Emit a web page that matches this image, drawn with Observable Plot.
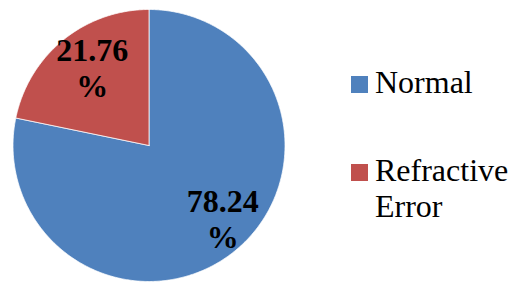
<!DOCTYPE html>
<html>
<head>
<meta charset="utf-8">
<script src="https://cdn.jsdelivr.net/npm/d3@7"></script>
<script src="https://cdn.jsdelivr.net/npm/@observablehq/plot@0.6"></script>
<style>
  html, body { margin: 0; padding: 0; background: #fff; }
  #wrap { position: relative; width: 510px; height: 284px; overflow: hidden; }
  #wrap svg { position: absolute; left: 0; top: 0; }
  .item { position: absolute; left: 351px; display: flex; align-items: flex-start;
          font-family: "Liberation Serif", Tinos, "Times New Roman", Times, "DejaVu Serif", serif; font-size: 32px;
          line-height: 36px; color: #000; }
  .sw { width: 17px; height: 17px; margin-top: 11.8px; flex: none; }
  .lab { margin-left: 7px; width: 138px; }
</style>
</head>
<body>
<div id="wrap"></div>
<script>
const categories = ["Normal", "Refractive Error"];
const values = [78.24, 21.76];
const colors = ["#4F81BD", "#C0504D"];
const labels = ["78.24\n%", "21.76\n%"];

const arcs = d3.pie().sort(null).value(d => d)(values);
const pts = [];
arcs.forEach((a, i) => {
  const c = categories[i];
  pts.push({x: 0, y: 0, c});
  const n = Math.max(2, Math.ceil((a.endAngle - a.startAngle) / 0.01));
  for (let k = 0; k <= n; k++) {
    const t = a.startAngle + (a.endAngle - a.startAngle) * k / n;
    pts.push({x: Math.sin(t), y: Math.cos(t), c});
  }
  pts.push({x: 0, y: 0, c});
});
const lab = arcs.map((a, i) => {
  const m = (a.startAngle + a.endAngle) / 2;
  return {x: 0.72 * Math.sin(m), y: 0.72 * Math.cos(m), text: labels[i], c: categories[i]};
});

const textOpts = {fontFamily: "'Liberation Serif', Tinos, 'Times New Roman', Times, 'DejaVu Serif', serif", fontWeight: "bold", fontSize: 32,
  lineHeight: 36 / 32, fill: "#000", textAnchor: "middle", lineAnchor: "middle"};

const chart = Plot.plot({
  width: 510, height: 284,
  marginLeft: 12.5, marginRight: 225.5, marginTop: 9, marginBottom: 3,
  x: {domain: [-1, 1], axis: null},
  y: {domain: [-1, 1], axis: null},
  color: {domain: categories, range: colors},
  marks: [
    Plot.line(pts, {x: "x", y: "y", z: "c", fill: "c", stroke: "white", strokeWidth: 0.75, curve: "linear"}),
    Plot.text(lab.filter(d => d.c === categories[0]), {x: "x", y: "y", text: "text", dx: 12, dy: -2.5, ...textOpts}),
    Plot.text(lab.filter(d => d.c === categories[1]), {x: "x", y: "y", text: "text", dx: 5, dy: -2.5, ...textOpts})
  ]
});
const wrap = document.getElementById("wrap");
wrap.appendChild(chart);

const tops = [64.2, 152.2];
categories.forEach((c, i) => {
  const it = document.createElement("div");
  it.className = "item";
  it.style.top = tops[i] + "px";
  const sw = document.createElement("div");
  sw.className = "sw";
  sw.style.background = colors[i];
  const t = document.createElement("div");
  t.className = "lab";
  t.textContent = c;
  it.appendChild(sw); it.appendChild(t);
  wrap.appendChild(it);
});
</script>
</body>
</html>
